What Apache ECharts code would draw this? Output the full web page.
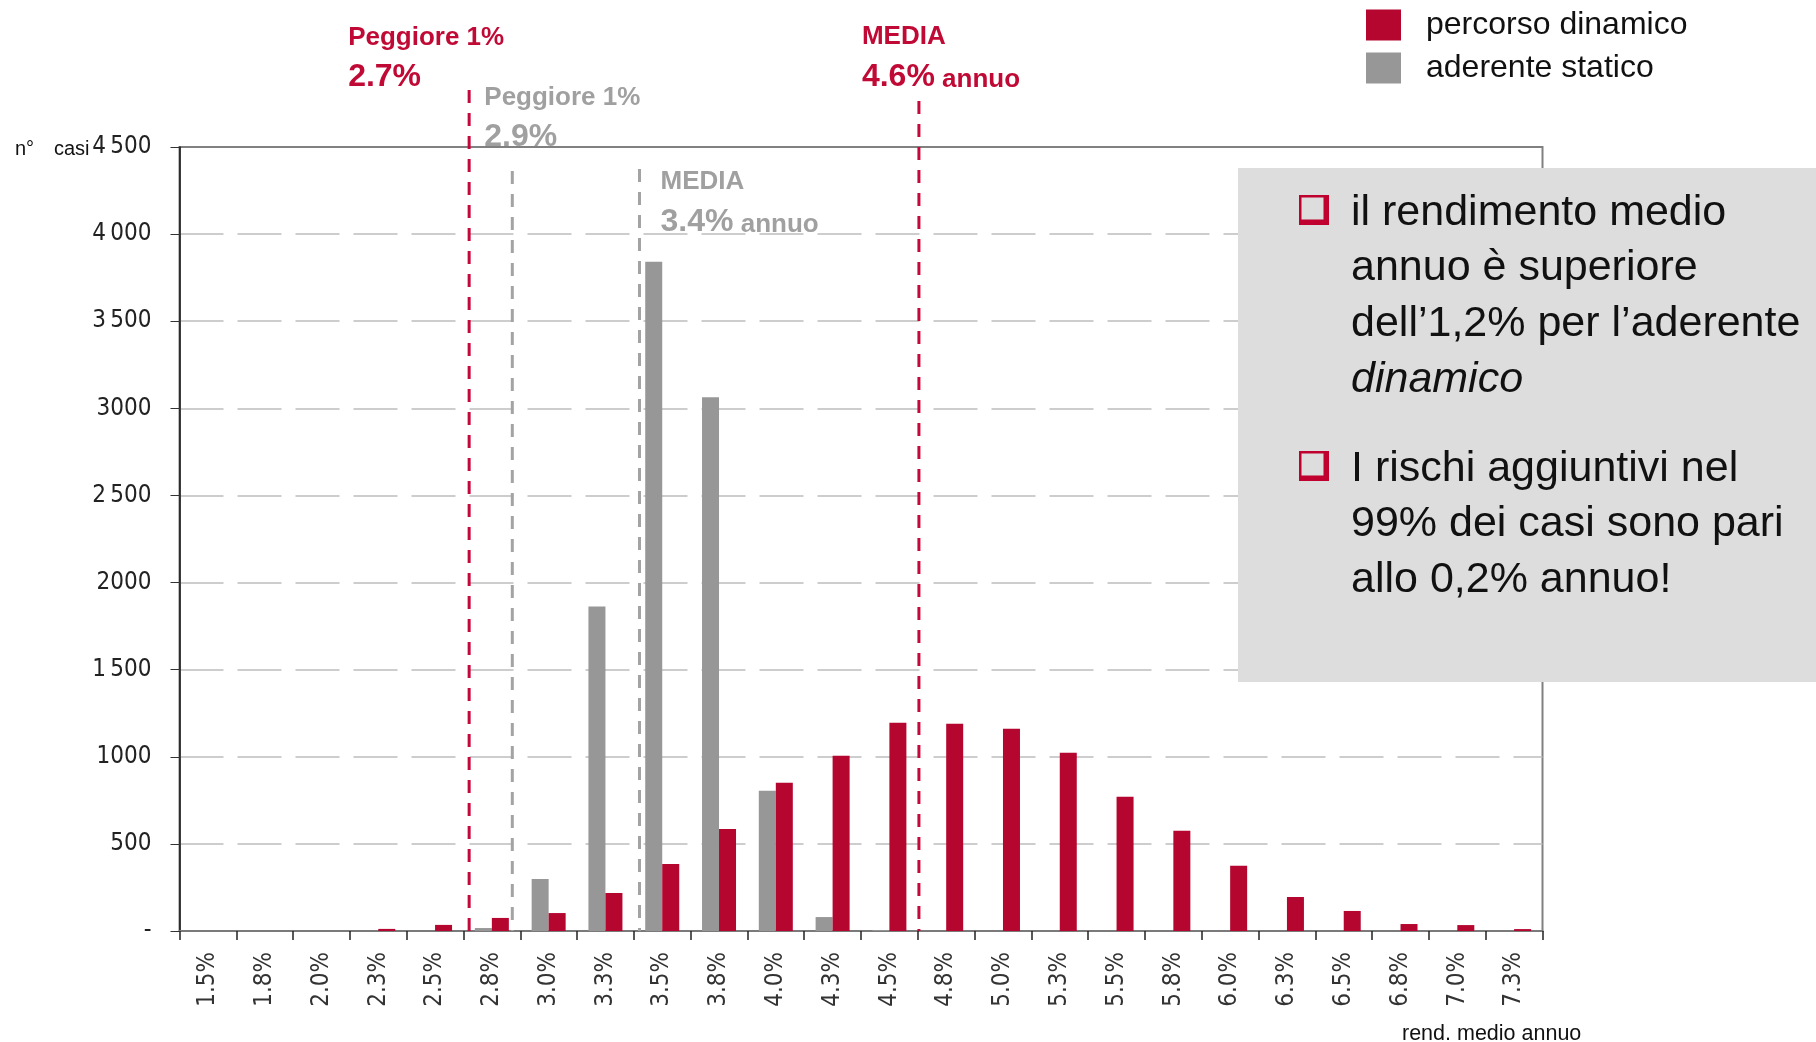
<!DOCTYPE html>
<html><head><meta charset="utf-8">
<script src="https://cdn.jsdelivr.net/npm/echarts@6/dist/echarts.min.js"></script>
<style>html,body{margin:0;padding:0;background:#fff}#c{width:1816px;height:1042px}</style>
</head><body><div id="c"></div>
<script>
// ---- data ----
const categories = ['1.5%','1.8%','2.0%','2.3%','2.5%','2.8%','3.0%','3.3%','3.5%','3.8%','4.0%','4.3%','4.5%','4.8%','5.0%','5.3%','5.5%','5.8%','6.0%','6.3%','6.5%','6.8%','7.0%','7.3%'];
const binStart = 1.5, binWidth = 0.25; // category centres in % return
const dinamico = [0,0,0,12,35,75,103,218,385,586,851,1006,1195,1190,1161,1023,770,575,374,195,115,40,34,11];
const statico  = [0,0,0,0,0,17,299,1862,3842,3064,805,80,5,0,0,0,0,0,0,0,0,0,0,0];
const yTickLabels = ['-','500','1000','1\u2009500','2000','2\u2009500','3000','3\u2009500','4\u2009000','4\u2009500'];
const seriesNames = ['percorso dinamico','aderente statico'];
const markerX = [2.65, 2.84, 3.40, 4.63];
const markerOf = ['dinamico','statico','statico','dinamico'];
const markerTitle = ['Peggiore 1%','Peggiore 1%','MEDIA','MEDIA'];
const markerValue = ['2.7%','2.9%','3.4%','4.6%'];
const markerSuffix = ['','','annuo','annuo'];
const bulletLines = [
  ['il rendimento medio','annuo è superiore','dell\u20191,2% per l\u2019aderente','{i|dinamico}'],
  ['I rischi aggiuntivi nel','99% dei casi sono pari','allo 0,2% annuo!']
];

// ---- layout / style ----
const RED = '#b5062f', GRAY = '#979797';
const RED_LINE = '#c4083b', GRAY_LINE = '#a3a3a3';
const RED_TXT = '#c00a35', GRAY_TXT = '#a0a0a0';
const G = {left:179.5, right:273.5, top:147, bottom:111};
const markerTop = [4827, 4362, 4374, 4764];           // line top in axis units
const markerLayout = [ {dx:-121, y1:38, y2:77}, {dx:-28, y1:98, y2:137}, {dx:21, y1:182, y2:222}, {dx:-57, y1:37, y2:77} ];

const chart = echarts.init(document.getElementById('c'), null, {renderer:'canvas'});

const graphics = [];
graphics.push({type:'text', left:15, top:139, style:{text:'n°', fill:'#111', font:'20px "Liberation Sans"'}});
graphics.push({type:'text', left:54, top:139, style:{text:'casi', fill:'#111', font:'20px "Liberation Sans"'}});
graphics.push({type:'text', left:1402, top:1023, style:{text:'rend. medio annuo', fill:'#111', font:'21.5px "Liberation Sans"'}});
// grey note box
graphics.push({type:'rect', z:100, shape:{x:1238, y:168, width:578, height:514}, style:{fill:'#dddddd'}});
const blockTop = [213, 469], lineStep = 55.6;
bulletLines.forEach((lines, b) => {
  const cy = blockTop[b];
  graphics.push({type:'rect', z:101, shape:{x:1299, y:cy-18, width:30, height:30}, style:{fill:'#c0002f'}});
  graphics.push({type:'rect', z:102, shape:{x:1301.5, y:cy-15.5, width:22, height:22}, style:{fill:'#dddddd'}});
  lines.forEach((t, k) => {
    graphics.push({type:'text', z:103, x:1351, y:cy + k*lineStep,
      style:{text:t, fill:'#111', font:'43px "Liberation Sans"', verticalAlign:'middle', align:'left',
        rich:{i:{fontStyle:'italic', fontSize:43, fontFamily:'Liberation Sans', fill:'#111'}}}});
  });
});

chart.setOption({
  animation:false,
  grid:{left:G.left, right:G.right, top:G.top, bottom:G.bottom, show:true, borderColor:'#808080', borderWidth:2, outerBoundsMode:'none'},
  legend:{
    left:1361, top:4, orient:'vertical', itemWidth:35, itemHeight:31, itemGap:11, icon:'rect',
    data:[seriesNames[0], seriesNames[1]],
    textStyle:{fontSize:32, fontFamily:'Liberation Sans', color:'#111', padding:[0,0,0,20]}
  },
  xAxis:[{
    type:'category', data:categories, boundaryGap:true,
    axisLine:{lineStyle:{color:'#7a7a7a', width:2}},
    axisTick:{show:true, length:9, lineStyle:{color:'#222', width:1.5}},
    axisLabel:{rotate:90, margin:21, fontSize:24, fontFamily:'DejaVu Sans Condensed', color:'#333', interval:0},
    splitLine:{show:false}
  },{
    type:'value', show:false, min:binStart - binWidth/2, max:binStart + binWidth*(categories.length-0.5)
  }],
  yAxis:{
    type:'value', min:0, max:4500, interval:500,
    axisLine:{show:true, lineStyle:{color:'#111', width:1.5}},
    axisTick:{show:true, length:9, lineStyle:{color:'#333'}},
    axisLabel:{margin:28, fontSize:24, fontFamily:'DejaVu Sans Condensed', color:'#222',
      formatter:(v)=>yTickLabels[Math.round(v/500)]},
    splitLine:{show:true, showMaxLine:false, showMinLine:false, lineStyle:{type:[44,14], color:'#bdbdbd', width:1.5}}
  },
  series:[
    {name:seriesNames[1], type:'bar', data:statico, barWidth:17, barGap:'0%', itemStyle:{color:GRAY}},
    {name:seriesNames[0], type:'bar', data:dinamico, barWidth:17, barGap:'0%', itemStyle:{color:RED}},
    {name:'markers', type:'custom', xAxisIndex:1, yAxisIndex:0, clip:false, z:5, silent:true,
      data: markerX.map((x,i)=>[x, markerTop[i], i]),
      encode:{x:0, y:1},
      renderItem:function(params, api){
        const i = api.value(2);
        const p0 = api.coord([api.value(0), api.value(1)]);
        const p1 = api.coord([api.value(0), 0]);
        const isDin = markerOf[i]==='dinamico';
        const lc = isDin ? RED_LINE : GRAY_LINE, tc = isDin ? RED_TXT : GRAY_TXT;
        const L = markerLayout[i];
        const v = '{b|'+markerValue[i]+'}' + (markerSuffix[i] ? '{s| '+markerSuffix[i]+'}' : '');
        return {type:'group', children:[
          {type:'line', shape:{x1:p0[0], y1:p0[1], x2:p1[0], y2:p1[1]}, style:{stroke:lc, lineWidth:3, lineDash:[13,10]}},
          {type:'text', x:p0[0]+L.dx, y:L.y1, style:{text:markerTitle[i], fill:tc, font:'bold 26px "Liberation Sans"', align:'left', verticalAlign:'middle'}},
          {type:'text', x:p0[0]+L.dx, y:L.y2, style:{text:v, align:'left', verticalAlign:'middle',
            rich:{b:{fontSize:32, fontWeight:'bold', fontFamily:'Liberation Sans', fill:tc, verticalAlign:'bottom'},
                  s:{fontSize:26, fontWeight:'bold', fontFamily:'Liberation Sans', fill:tc, verticalAlign:'bottom'}}}}
        ]};
      }
    }
  ],
  graphic: graphics
});
</script></body></html>
